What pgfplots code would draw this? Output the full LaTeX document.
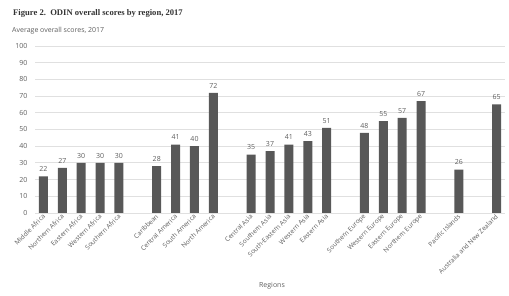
\documentclass[border=0pt]{standalone}
\usepackage{pgfplots}
\pgfplotsset{compat=1.18}
\usepackage{fontspec}
\setmainfont{Open Sans}
\newfontfamily\titlefont{Liberation Serif}
\definecolor{barc}{HTML}{585858}
\definecolor{txt}{HTML}{5E5E5E}
\definecolor{gridc}{HTML}{E0E0E0}
\pgfplotstableread{
x y
0 22
1 27
2 30
3 30
4 30
6 28
7 41
8 40
9 72
11 35
12 37
13 41
14 43
15 51
17 48
18 55
19 57
20 67
22 26
24 65
}\scores
\begin{document}
\begin{tikzpicture}[x=1pt,y=1pt]
\path[use as bounding box] (-35,-83) rectangle (474,213);
\begin{axis}[
  at={(0,0)}, anchor=south west,
  scale only axis, width=470pt, height=167pt,
  xmin=-0.45, xmax=24.45, ymin=0, ymax=100,
  ytick={0,10,...,100},
  xtick={0,1,2,3,4,6,7,8,9,11,12,13,14,15,17,18,19,20,22,24},
  xticklabels={Middle Africa,Northern Africa,Eastern Africa,Western Africa,Southern Africa,Caribbean,Central America,South America,North America,Central Asia,Southern Asia,South-Eastern Asia,Western Asia,Eastern Asia,Southern Europe,Western Europe,Eastern Europe,Northern Europe,Pacific Islands,Australia and New Zealand},
  ymajorgrids, grid style={gridc, line width=0.8pt},
  axis line style={draw=none},
  major tick length=0pt,
  /pgf/number format/assume math mode=true,
  yticklabel style={font=\fontsize{7}{8}\selectfont, text=txt, anchor=east, xshift=-4pt},
  xticklabel style={font=\fontsize{6.5}{7}\selectfont, text=txt, rotate=45, anchor=east, xshift=2pt, yshift=-2pt},
  ybar, bar width=9pt,
  nodes near coords,
  nodes near coords style={font=\fontsize{7}{8}\selectfont, text=txt, yshift=1pt},
]
\addplot[fill=barc, draw=none] table[x=x,y=y] {\scores};
\end{axis}
\node[anchor=base west, text=black!80, font=\titlefont\bfseries\fontsize{8.6}{10}\selectfont, inner sep=0pt] at (-22,197) {Figure 2.\ \ ODIN overall scores by region, 2017};
\node[anchor=base west, text=txt, font=\fontsize{7}{8}\selectfont, inner sep=0pt] at (-23,180) {Average overall scores, 2017};
\node[anchor=base, text=txt, font=\fontsize{7}{8}\selectfont, inner sep=0pt] at (237,-75) {Regions};
\end{tikzpicture}
\end{document}
